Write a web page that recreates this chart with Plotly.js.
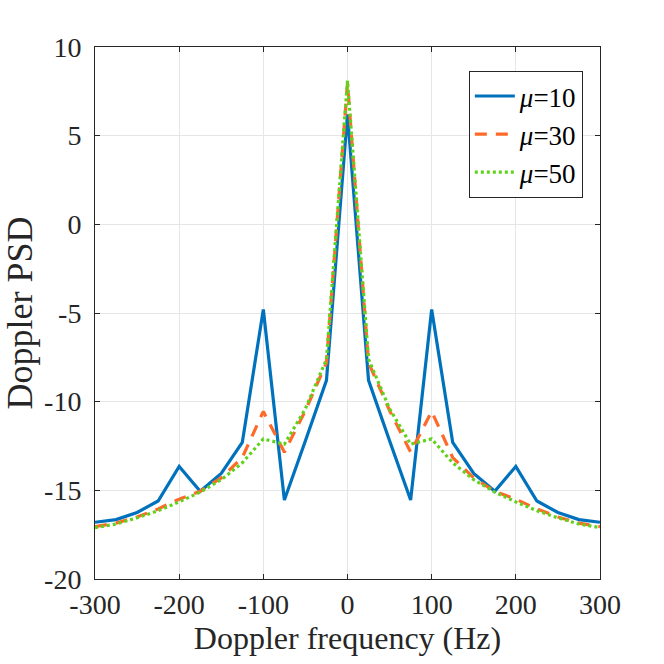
<!DOCTYPE html>
<html>
<head>
<meta charset="utf-8">
<script src="https://cdn.plot.ly/plotly-3.0.1.min.js"></script>
<style>html,body{margin:0;padding:0;background:#fff;}#chart{width:664px;height:664px;}</style>
</head>
<body>
<div id="chart"></div>
<script>
var freq = [-300,-275,-250,-225,-200,-175,-150,-125,-100,-75,-50,-25,0,25,50,75,100,125,150,175,200,225,250,275,300];
var psdMu10 = [-16.8,-16.65,-16.25,-15.6,-13.65,-15.05,-14.05,-12.3,-4.8,-15.55,-12.2,-8.8,6.2,-8.8,-12.2,-15.55,-4.8,-12.3,-14.05,-15.05,-13.65,-15.6,-16.25,-16.65,-16.8];
var psdMu30 = [-17.05,-16.85,-16.5,-16.05,-15.5,-15.05,-14.3,-13.15,-10.55,-12.85,-10.5,-7.8,7.95,-7.8,-10.5,-12.85,-10.55,-13.15,-14.3,-15.05,-15.5,-16.05,-16.5,-16.85,-17.05];
var psdMu50 = [-17.1,-16.9,-16.55,-16.15,-15.65,-15.1,-14.4,-13.45,-12.1,-12.4,-10.4,-7.6,8.1,-7.6,-10.4,-12.4,-12.1,-13.45,-14.4,-15.1,-15.65,-16.15,-16.55,-16.9,-17.1];
var seriesNames = ['<i>μ</i>=10','<i>μ</i>=30','<i>μ</i>=50'];
var xTicks = [-300,-200,-100,0,100,200,300];
var yTicks = [-20,-15,-10,-5,0,5,10];

var font = '"Liberation Serif", serif';
var traces = [
  {x: freq, y: psdMu10, name: seriesNames[0], mode: 'lines', line: {color: '#0072BD', width: 3.2, dash: 'solid'}},
  {x: freq, y: psdMu30, name: seriesNames[1], mode: 'lines', line: {color: '#FF6929', width: 3.2, dash: '12px,9px'}},
  {x: freq, y: psdMu50, name: seriesNames[2], mode: 'lines', line: {color: '#5FD31C', width: 3.2, dash: '3px,3px'}}
];
var axisCommon = {
  showline: true, linecolor: '#262626', linewidth: 1, mirror: 'allticks',
  ticks: 'inside', ticklen: 5, tickcolor: '#262626', tickwidth: 1,
  showgrid: true, gridcolor: '#e6e6e6', gridwidth: 1, zeroline: false,
  tickfont: {family: font, size: 28, color: '#262626'}
};
var layout = {
  width: 664, height: 664,
  margin: {l: 95, r: 64, t: 47, b: 85},
  paper_bgcolor: '#fff', plot_bgcolor: '#fff',
  font: {family: font, color: '#262626'},
  showlegend: true,
  legend: {
    x: 0.966, y: 0.955, xanchor: 'right', yanchor: 'top',
    bgcolor: '#fff', bordercolor: '#262626', borderwidth: 1,
    font: {family: font, size: 27, color: '#000'},
    tracegroupgap: 0, itemwidth: 40
  },
  xaxis: Object.assign({}, axisCommon, {
    range: [-300, 300], tickvals: xTicks, ticktext: xTicks.map(String),
    ticklabelstandoff: 0,
    title: {text: 'Doppler frequency (Hz)', font: {family: font, size: 32, color: '#262626'}, standoff: 0}
  }),
  yaxis: Object.assign({}, axisCommon, {
    range: [-20, 10], tickvals: yTicks, ticktext: yTicks.map(String),
    ticklabelstandoff: 7,
    title: {text: 'Doppler PSD', font: {family: font, size: 36, color: '#262626'}, standoff: 4}
  })
};
Plotly.newPlot('chart', traces, layout, {displayModeBar: false, staticPlot: true});
</script>
</body>
</html>
